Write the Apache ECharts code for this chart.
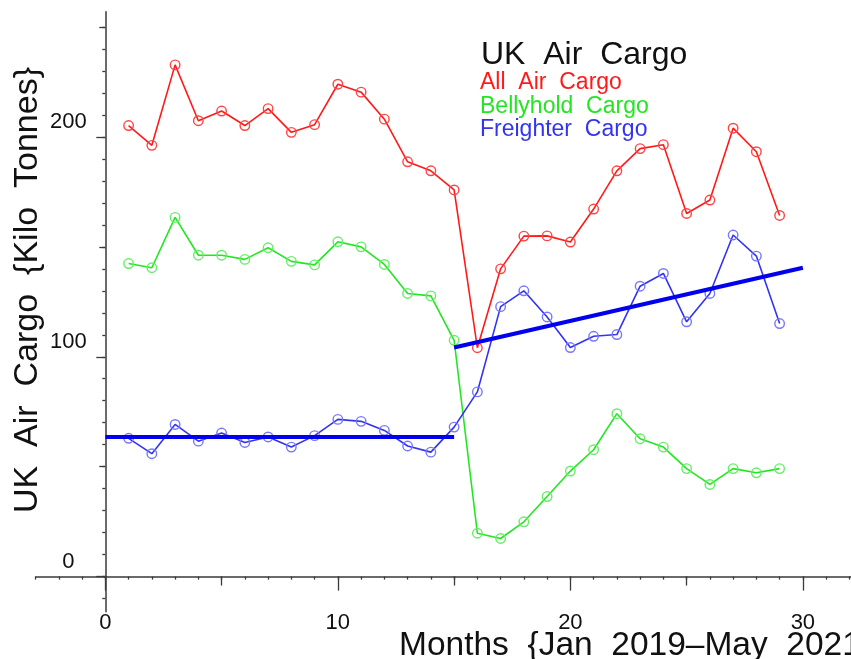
<!DOCTYPE html>
<html>
<head>
<meta charset="utf-8">
<script src="https://cdn.jsdelivr.net/npm/echarts@6/dist/echarts.min.js"></script>
<style>
html,body{margin:0;padding:0;background:#fff;}
#chart{width:851px;height:659px;}
</style>
</head>
<body>
<div id="chart"></div>
<script>
// ---- data ----
var months = [1,2,3,4,5,6,7,8,9,10,11,12,13,14,15,16,17,18,19,20,21,22,23,24,25,26,27,28,29];
var allAirCargo = [205.2,196.2,232.8,207.4,211.8,205.2,212.9,202.1,205.6,224.0,220.4,208.1,188.7,184.6,175.9,104.1,140.0,154.9,155.0,152.2,167.2,184.6,194.7,196.5,165.2,171.3,204.0,193.3,164.3];
var bellyholdCargo = [142.4,140.5,163.4,146.2,146.2,144.3,149.6,143.4,141.8,152.3,150.0,142.0,128.8,127.7,107.5,19.7,17.3,24.9,36.4,48.0,57.7,74.1,62.7,58.9,49.1,41.9,49.1,47.2,49.1];
var freighterCargo = [62.9,55.9,69.2,61.6,65.3,61.0,63.5,58.9,64.1,71.5,70.6,66.5,59.4,56.6,68.0,84.0,122.8,130.0,118.1,104.2,109.3,110.1,132.1,137.9,115.9,128.8,155.4,145.8,115.1];
var trendPreX = [0, 15];
var trendPreY = [63.5, 63.5];
var trendPostX = [15, 30];
var trendPostY = [104.2, 140.5];
var xMajorTicks = [0, 10, 20, 30];
var xMidTicks = [5, 15, 25];
var xMinorTicks = [-3,-2,-1,0,1,2,3,4,5,6,7,8,9,10,11,12,13,14,15,16,17,18,19,20,21,22,23,24,25,26,27,28,29,30,31,32];
var yMajorTicks = [0, 100, 200];
var yMidTicks = [50, 150, 250];
var yMinorTicks = [-10,0,10,20,30,40,50,60,70,80,90,100,110,120,130,140,150,160,170,180,190,200,210,220,230,240,250];
var seriesNames = ['All  Air  Cargo', 'Bellyhold  Cargo', 'Freighter  Cargo'];
var chartTitle = 'UK  Air  Cargo';
var xTitle = 'Months  {Jan  2019\u2013May  2021}';
var yTitle = 'UK  Air  Cargo  {Kilo  Tonnes}';

function pairs(xs, ys) { return xs.map(function (x, i) { return [x, ys[i]]; }); }

var FONT = 'Liberation Sans, Arial, Helvetica, sans-serif';
var AXIS_COLOR = '#3a3a3a';
var RED = '#ff1a1a', GREEN = '#22e622', BLUE = '#3333f0';

// grid: left 35.6, bottom edge at 611.7; axis lines sit at x=0 / y=0 via offsets
var X_OFFSET = -35.1;   // x-axis line moved up from the grid bottom to y = 0
var Y_OFFSET = -69.7;   // y-axis line moved right from the grid left to x = 0

function xAx(ticks, len, showLine, showLabel) {
  return {
    type: 'value', min: -3, max: 32.07, position: 'bottom', offset: X_OFFSET,
    axisLine: { show: showLine, onZero: false, lineStyle: { color: AXIS_COLOR, width: 1.5 } },
    axisTick: { show: true, customValues: ticks, length: len, inside: false, lineStyle: { color: AXIS_COLOR, width: 1.3 } },
    axisLabel: showLabel ? { show: true, customValues: xMajorTicks, margin: 35, fontSize: 22, color: '#111', fontFamily: FONT } : { show: false },
    splitLine: { show: false }
  };
}
function yAx(ticks, len, showLine, showLabel) {
  return {
    type: 'value', min: -16, max: 257, position: 'left', offset: Y_OFFSET,
    axisLine: { show: showLine, onZero: false, lineStyle: { color: AXIS_COLOR, width: 1.5 } },
    axisTick: { show: true, customValues: ticks, length: len, inside: false, lineStyle: { color: AXIS_COLOR, width: 1.3 } },
    axisLabel: showLabel ? {
      show: true, customValues: yMajorTicks, margin: 37, align: 'center', verticalAlign: 'middle',
      lineHeight: 30, formatter: function (v) { return v + '\n '; },
      fontSize: 22, color: '#111', fontFamily: FONT
    } : { show: false },
    splitLine: { show: false }
  };
}

function dataSeries(name, vals, color, markerColor) {
  return {
    name: name, type: 'line', xAxisIndex: 0, yAxisIndex: 0,
    data: pairs(months, vals),
    symbol: 'circle', symbolSize: 9.5,
    lineStyle: { color: color, width: 1.6 },
    itemStyle: { color: 'rgba(255,255,255,0)', borderColor: markerColor, borderWidth: 1.4 },
    emphasis: { disabled: true },
    animation: false
  };
}
function trendSeries(xs, ys) {
  return {
    type: 'line', xAxisIndex: 0, yAxisIndex: 0,
    data: pairs(xs, ys), symbol: 'none',
    lineStyle: { color: '#0000ee', width: 4 },
    z: 5, animation: false, emphasis: { disabled: true }
  };
}

var chart = echarts.init(document.getElementById('chart'), null, { renderer: 'canvas' });
chart.setOption({
  backgroundColor: '#ffffff',
  animation: false,
  textStyle: { fontFamily: FONT },
  title: {
    text: chartTitle, left: 476, top: 33,
    textStyle: { fontSize: 32, fontWeight: 'normal', color: '#111', fontFamily: FONT, lineHeight: 34 }
  },
  legend: {
    orient: 'vertical', left: 469, top: 66, itemWidth: 0, itemHeight: 0, itemGap: 0,
    selectedMode: false,
    textStyle: { fontSize: 23, fontFamily: FONT, lineHeight: 23.5 },
    data: [
      { name: seriesNames[0], icon: 'rect', textStyle: { color: RED } },
      { name: seriesNames[1], icon: 'rect', textStyle: { color: GREEN } },
      { name: seriesNames[2], icon: 'rect', textStyle: { color: BLUE } }
    ]
  },
  grid: { left: 35.6, right: 0, top: 11.7, bottom: 47.3, containLabel: false, outerBoundsMode: 'none' },
  xAxis: [ xAx(xMajorTicks, 14, true, true), xAx(xMidTicks, 9, false, false), xAx(xMinorTicks, 3, false, false) ],
  yAxis: [ yAx(yMajorTicks, 9, true, true), yAx(yMidTicks, 6, false, false), yAx(yMinorTicks, 3, false, false) ],
  graphic: [
    { type: 'text', left: 399, top: 629, style: { text: xTitle, fontSize: 33.5, fontFamily: FONT, fill: '#111' } },
    { type: 'text', x: 28, y: 290, rotation: Math.PI / 2, style: { text: yTitle, fontSize: 34, fontFamily: FONT, fill: '#111', align: 'center', verticalAlign: 'middle' } }
  ],
  series: [
    dataSeries(seriesNames[1], bellyholdCargo, GREEN, '#66ee66'),
    dataSeries(seriesNames[0], allAirCargo, RED, '#ff4444'),
    dataSeries(seriesNames[2], freighterCargo, BLUE, '#7777ff'),
    trendSeries(trendPreX, trendPreY),
    trendSeries(trendPostX, trendPostY)
  ]
});
</script>
</body>
</html>
